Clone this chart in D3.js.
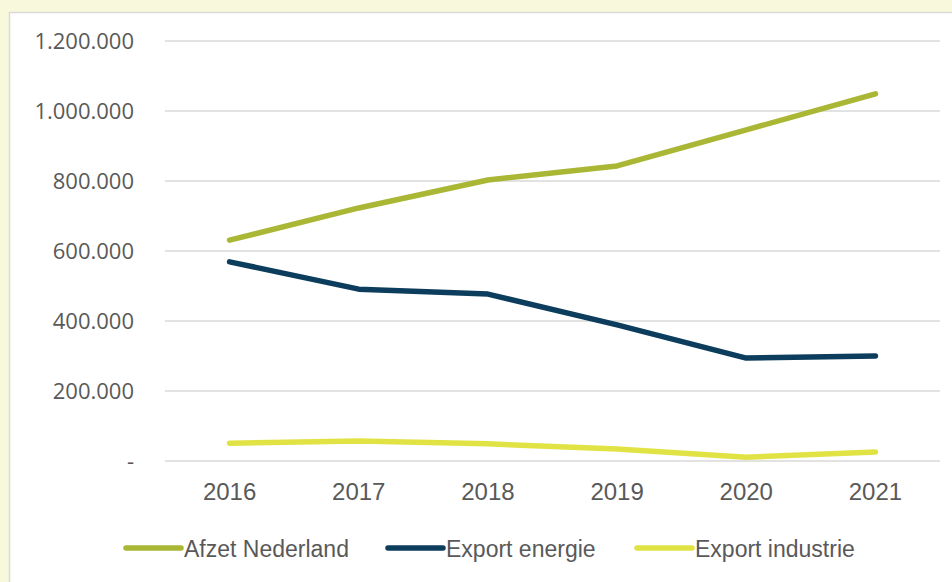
<!DOCTYPE html>
<html>
<head>
<meta charset="utf-8">
<script src="https://cdn.jsdelivr.net/npm/d3@7"></script>
<style>
  body { margin: 0; background: #f8f8dc; }
  svg { display: block; }
</style>
</head>
<body>
<div id="container"></div>
<script>
// Chart data
const years = ["2016", "2017", "2018", "2019", "2020", "2021"];
const afzetNederland = [631000, 723000, 803000, 843000, 946000, 1049000];
const exportEnergie = [569000, 491000, 477000, 389000, 294000, 300000];
const exportIndustrie = [51000, 57000, 49000, 34000, 11000, 26000];
const yTicks = [0, 200000, 400000, 600000, 800000, 1000000, 1200000];

const series = [
  { name: "Afzet Nederland", values: afzetNederland, color: "#a9b735" },
  { name: "Export energie", values: exportEnergie, color: "#0d3d5c" },
  { name: "Export industrie", values: exportIndustrie, color: "#e1e345" }
];

const width = 952;
const height = 582;
const margin = { top: 41, right: 12, bottom: 121, left: 165 };

const svg = d3.select('#container')
  .append('svg')
  .attr('width', width)
  .attr('height', height);

// white panel with light border
svg.append('rect')
  .attr('x', 9.5).attr('y', 12.5)
  .attr('width', width).attr('height', height)
  .attr('fill', '#ffffff')
  .attr('stroke', '#d9d9d9')
  .attr('stroke-width', 1.5);

const x = d3.scaleBand()
  .domain(years)
  .range([margin.left, width - margin.right]);

const y = d3.scaleLinear()
  .domain([0, 1200000])
  .range([height - margin.bottom, margin.top]);

const fmt = d => d === 0 ? "-" : d3.format(",")(d).replace(/,/g, ".");

// gridlines
svg.append('g')
  .selectAll('line')
  .data(yTicks)
  .enter().append('line')
  .attr('x1', margin.left)
  .attr('x2', width - margin.right)
  .attr('y1', d => y(d))
  .attr('y2', d => y(d))
  .style('stroke', '#d9d9d9')
  .style('stroke-width', 1.5);

// y axis labels
const yAxis = svg.append('g')
  .attr('transform', `translate(${margin.left - 31},0)`)
  .call(d3.axisLeft(y).tickValues(yTicks).tickFormat(fmt).tickSize(0).tickPadding(0));
yAxis.select('.domain').remove();
yAxis.selectAll('text')
  .style('font-family', '"Open Sans", sans-serif')
  .style('font-size', '22px')
  .style('fill', '#595959');

// x axis labels
const xAxis = svg.append('g')
  .attr('transform', `translate(0,${height - margin.bottom + 20})`)
  .call(d3.axisBottom(x).tickSize(0).tickPadding(2));
xAxis.select('.domain').remove();
xAxis.selectAll('text')
  .style('font-family', '"Liberation Sans Narrow", sans-serif')
  .style('font-size', '24px')
  .style('fill', '#595959');

// lines
const line = d3.line()
  .x((d, i) => x(years[i]) + x.bandwidth() / 2)
  .y(d => y(d));

svg.selectAll('.series')
  .data(series)
  .enter().append('path')
  .attr('class', 'series')
  .attr('d', d => line(d.values))
  .style('fill', 'none')
  .style('stroke', d => d.color)
  .style('stroke-width', 5.5)
  .style('stroke-linecap', 'round')
  .style('stroke-linejoin', 'round');

// legend
const legendX = [126, 388, 637];
const legend = svg.selectAll('.legend')
  .data(series)
  .enter().append('g')
  .attr('class', 'legend')
  .attr('transform', (d, i) => `translate(${legendX[i]},548)`);

legend.append('line')
  .attr('x1', 0).attr('x2', 55)
  .attr('y1', 0).attr('y2', 0)
  .style('stroke', d => d.color)
  .style('stroke-width', 5.5)
  .style('stroke-linecap', 'round');

legend.append('text')
  .attr('x', 58)
  .attr('y', 9)
  .text(d => d.name)
  .style('font-family', '"Liberation Sans Narrow", sans-serif')
  .style('font-size', '23px')
  .style('fill', '#595959');
</script>
</body>
</html>
